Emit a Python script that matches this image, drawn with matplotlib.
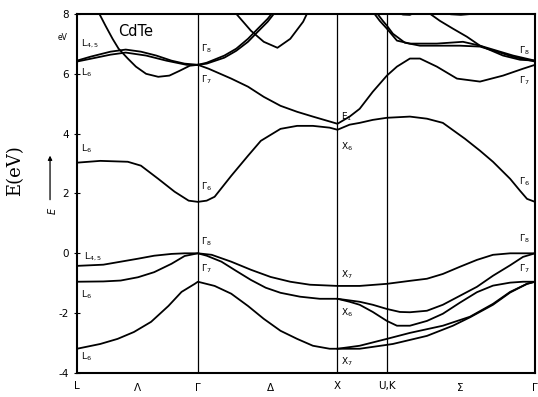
import numpy as np
import matplotlib
matplotlib.use("Agg")
from matplotlib import pyplot as plt

# symmetry points along the path (units of 2*pi/a)
k_L, k_G, k_X, k_UK, k_G2 = 0.0, 0.866, 1.866, 2.220, 3.281
tick_pos = [k_L, 0.43, k_G, 1.387, k_X, k_UK, 2.743, k_G2]
tick_lab = ["L", r"$\Lambda$", r"$\Gamma$", r"$\Delta$", "X", "U,K", r"$\Sigma$", r"$\Gamma$"]

# valence bands (k, E in eV)
vb_heavy = [(0.000, -0.42), (0.189, -0.38), (0.313, -0.28), (0.437, -0.18), (0.553, -0.08),
            (0.677, -0.02), (0.771, 0.00), (0.866, 0.00),
            (0.965, -0.05), (1.105, -0.28), (1.246, -0.55), (1.387, -0.79), (1.528, -0.95),
            (1.669, -1.05), (1.866, -1.09),
            (2.025, -1.09), (2.220, -1.02),
            (2.385, -0.92), (2.507, -0.85), (2.621, -0.69), (2.743, -0.45), (2.865, -0.22),
            (2.980, -0.05), (3.103, 0.00), (3.281, 0.00)]
vb_light = [(0.000, -0.95), (0.189, -0.94), (0.313, -0.91), (0.437, -0.80), (0.553, -0.63),
            (0.677, -0.35), (0.771, -0.09), (0.866, 0.00),
            (0.929, -0.08), (1.035, -0.28), (1.141, -0.59), (1.246, -0.89), (1.352, -1.15),
            (1.458, -1.32), (1.598, -1.45), (1.739, -1.52), (1.866, -1.52),
            (2.025, -1.62), (2.119, -1.72), (2.220, -1.86),
            (2.313, -1.96), (2.385, -1.97), (2.507, -1.92), (2.621, -1.72), (2.743, -1.42),
            (2.865, -1.12), (2.980, -0.75), (3.103, -0.40), (3.195, -0.12), (3.281, 0.00)]
vb_split = [(1.866, -1.52), (1.953, -1.62), (2.025, -1.72), (2.119, -1.96), (2.220, -2.26),
            (2.292, -2.42), (2.385, -2.42), (2.507, -2.26), (2.621, -2.02), (2.743, -1.65),
            (2.865, -1.30), (2.980, -1.08), (3.103, -0.98), (3.195, -0.95), (3.281, -0.95)]
vb_low = [(0.000, -3.19), (0.167, -3.03), (0.291, -2.86), (0.408, -2.63), (0.531, -2.29),
          (0.655, -1.76), (0.749, -1.29), (0.844, -1.02), (0.866, -0.95),
          (0.986, -1.09), (1.105, -1.35), (1.225, -1.76), (1.338, -2.19), (1.458, -2.59),
          (1.577, -2.86), (1.690, -3.09), (1.810, -3.19), (1.866, -3.19),
          (2.025, -3.09), (2.220, -2.86),
          (2.385, -2.66), (2.621, -2.42), (2.815, -2.12), (2.980, -1.69), (3.103, -1.29),
          (3.224, -1.02), (3.281, -0.95)]
vb_low2 = [(1.866, -3.19), (2.025, -3.19), (2.220, -3.06),
           (2.263, -3.03), (2.507, -2.76), (2.693, -2.42), (2.815, -2.14), (2.980, -1.72),
           (3.103, -1.31), (3.224, -1.02), (3.281, -0.95)]

# conduction bands
cb_low = [(0.000, 3.03), (0.167, 3.09), (0.364, 3.06), (0.458, 2.93), (0.582, 2.49),
          (0.699, 2.06), (0.800, 1.76), (0.866, 1.72),
          (0.929, 1.76), (0.986, 1.89), (1.105, 2.59), (1.225, 3.26), (1.317, 3.76),
          (1.458, 4.16), (1.577, 4.26), (1.690, 4.26), (1.810, 4.20), (1.866, 4.13),
          (1.953, 4.30), (2.025, 4.36), (2.119, 4.46), (2.220, 4.53),
          (2.385, 4.57), (2.507, 4.50), (2.621, 4.36), (2.779, 3.83), (2.887, 3.43),
          (2.980, 3.06), (3.103, 2.49), (3.174, 2.09), (3.224, 1.82), (3.281, 1.72)]
cb_mid = [(0.866, 6.30), (0.943, 6.17), (1.105, 5.84), (1.225, 5.57), (1.338, 5.23),
          (1.458, 4.93), (1.577, 4.73), (1.690, 4.57), (1.866, 4.33),
          (1.953, 4.57), (2.025, 4.83), (2.119, 5.40), (2.220, 5.94),
          (2.292, 6.24), (2.385, 6.51), (2.457, 6.51), (2.578, 6.24), (2.722, 5.84),
          (2.887, 5.74), (3.052, 5.94), (3.195, 6.17), (3.281, 6.30)]
cb_steep = [(0.131, 8.30), (0.153, 8.07), (0.204, 7.61), (0.255, 7.17), (0.298, 6.84),
            (0.364, 6.51), (0.422, 6.24), (0.495, 6.00), (0.582, 5.90), (0.662, 5.94),
            (0.735, 6.10), (0.808, 6.27), (0.866, 6.30)]
cb_L45 = [(0.000, 6.44), (0.095, 6.57), (0.240, 6.74), (0.349, 6.81), (0.458, 6.74),
          (0.568, 6.61), (0.677, 6.44), (0.771, 6.34), (0.866, 6.30),
          (0.929, 6.37), (1.056, 6.61), (1.141, 6.84), (1.225, 7.17), (1.296, 7.51),
          (1.366, 7.84), (1.408, 8.08), (1.436, 8.25)]
cb_L6 = [(0.000, 6.41), (0.095, 6.50), (0.240, 6.64), (0.349, 6.71), (0.495, 6.61),
         (0.640, 6.44), (0.786, 6.30), (0.866, 6.30),
         (0.929, 6.34), (1.056, 6.54), (1.141, 6.77), (1.225, 7.07), (1.296, 7.41),
         (1.366, 7.74), (1.423, 8.08), (1.451, 8.25)]
cb_arc_d = [(1.105, 8.40), (1.127, 8.08), (1.246, 7.44), (1.338, 7.07), (1.436, 6.87),
            (1.528, 7.17), (1.620, 7.74), (1.655, 8.08), (1.676, 8.35)]
cb_top1 = [(2.097, 8.35), (2.119, 8.08), (2.169, 7.77), (2.220, 7.51),
           (2.292, 7.11), (2.385, 7.01), (2.578, 7.01), (2.765, 7.07), (2.887, 6.94),
           (3.009, 6.77), (3.124, 6.61), (3.281, 6.44)]
cb_top2 = [(2.119, 8.35), (2.140, 8.08), (2.191, 7.77), (2.220, 7.61),
           (2.263, 7.34), (2.349, 7.04), (2.457, 6.94), (2.600, 6.94), (2.743, 6.94),
           (2.887, 6.91), (3.009, 6.74), (3.124, 6.57), (3.281, 6.41)]
cb_top3 = [(2.464, 8.35), (2.507, 8.08), (2.600, 7.77), (2.693, 7.51), (2.793, 7.24),
           (2.887, 6.94), (3.052, 6.61), (3.174, 6.47), (3.281, 6.44)]
cb_arc1 = [(2.242, 8.30), (2.277, 8.08), (2.335, 7.98), (2.385, 7.97), (2.435, 8.08),
           (2.464, 8.30)]
cb_arc2 = [(2.571, 8.30), (2.607, 8.08), (2.678, 7.99), (2.750, 7.97), (2.821, 8.00),
           (2.872, 8.08), (2.908, 8.30)]

bands = [vb_heavy, vb_light, vb_split, vb_low, vb_low2,
         cb_low, cb_mid, cb_steep, cb_L45, cb_L6, cb_arc_d,
         cb_top1, cb_top2, cb_top3, cb_arc1, cb_arc2]

# level labels: (k, E, text)
point_labels = [
    (0.03, 7.00, r"L$_{4,5}$"), (0.03, 6.02, r"L$_6$"), (0.03, 3.50, r"L$_6$"),
    (0.05, -0.12, r"L$_{4,5}$"), (0.03, -1.40, r"L$_6$"), (0.03, -3.45, r"L$_6$"),
    (0.89, 6.85, r"$\Gamma_8$"), (0.89, 5.80, r"$\Gamma_7$"), (0.89, 2.22, r"$\Gamma_6$"),
    (0.89, 0.38, r"$\Gamma_8$"), (0.89, -0.52, r"$\Gamma_7$"),
    (1.89, 4.55, r"E$_1$"), (1.89, 3.56, r"X$_6$"), (1.89, -0.72, r"X$_7$"),
    (1.89, -1.98, r"X$_6$"), (1.89, -3.62, r"X$_7$"),
    (3.17, 6.77, r"$\Gamma_8$"), (3.17, 5.77, r"$\Gamma_7$"), (3.17, 2.39, r"$\Gamma_6$"),
    (3.17, 0.48, r"$\Gamma_8$"), (3.17, -0.52, r"$\Gamma_7$"),
]

fig = plt.figure(figsize=(5.38, 3.97), dpi=100)
ax = fig.add_axes([0.1431, 0.0605, 0.8513, 0.9043])

for b in bands:
    k, e = np.array(b).T
    ax.plot(k, e, color="black", lw=1.3, solid_joinstyle="round")

for kv in (k_G, k_X, k_UK):
    ax.axvline(kv, color="black", lw=0.9)

for kx, ey, s in point_labels:
    ax.text(kx, ey, s, fontsize=6.5, ha="left", va="center")

ax.text(0.42, 7.4, "CdTe", fontsize=10.5, ha="center", va="center")

ax.set_xlim(k_L, k_G2)
ax.set_ylim(-4, 8)
ax.set_xticks(tick_pos)
ax.set_xticklabels(tick_lab, fontsize=7.5)
ax.tick_params(axis="x", length=0, pad=6)
ax.set_yticks([-4, -2, 0, 2, 4, 6, 8])
ax.set_yticklabels(["-4", "-2", "0", "2", "4", "6", "8"], fontsize=7.5)
ax.tick_params(axis="y", direction="inout", length=5, width=0.8, pad=3)
for sp in ax.spines.values():
    sp.set_linewidth(1.5)

fig.text(0.117, 0.905, "eV", fontsize=5.5, ha="center", va="center")
fig.text(0.028, 0.57, "E(eV)", rotation=90, fontsize=13, family="DejaVu Serif",
         ha="center", va="center")
fig.text(0.097, 0.468, "$E$", rotation=90, fontsize=7, ha="center", va="center")
fig.add_artist(matplotlib.patches.FancyArrowPatch(
    (0.093, 0.49), (0.093, 0.615), transform=fig.transFigure,
    arrowstyle="-|>", mutation_scale=6, lw=0.9, color="black"))

fig.savefig("out.png", dpi=100)
